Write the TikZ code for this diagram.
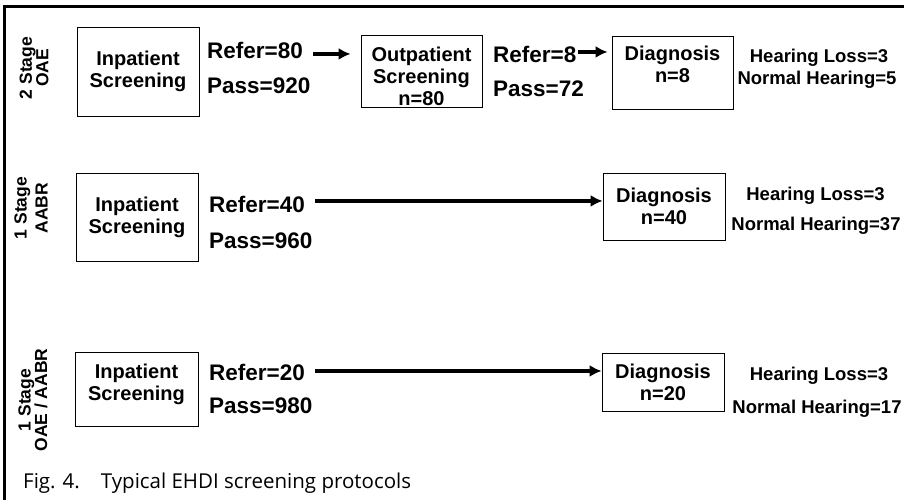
\documentclass[tikz,border=0pt]{standalone}
\usepackage{fontspec}
\setmainfont{Liberation Sans}
\newfontfamily\capfont{Open Sans}
\usetikzlibrary{positioning,arrows.meta}
\tikzset{
  flowarrow/.style={-{Latex[length=12pt, width=12pt]}, line width=4pt},
  screenbox/.style={draw, line width=0.8pt, minimum width=122pt, align=center, inner sep=0pt, font=\fontsize{20}{22}\selectfont\bfseries},
  flowlabel/.style={anchor=base west, inner sep=0pt, font=\fontsize{22.5}{26}\selectfont\bfseries},
  outcome/.style={anchor=base, inner sep=0pt, font=\fontsize{18.5}{22}\selectfont\bfseries},
  stagelabel/.style={rotate=90, align=center, inner sep=0pt, font=\fontsize{17.5}{16.5}\selectfont\bfseries},
  frameline/.style={line width=2.8pt}
}
\begin{document}
\begin{tikzpicture}[x=1pt, y=-1pt]
  \useasboundingbox (0,0) rectangle (904,500);
  \draw[frameline] (4.5,500) -- (4.5,6.5) -- (904,6.5);

  % 2 stage OAE
  \node[stagelabel] (s1) at (34,68) {2 Stage\\OAE};
  \node[screenbox, minimum height=89pt, text depth=5pt] (r1in) at (138,71.5) {Inpatient\\Screening};
  \node[flowlabel] (r1refer) at (207,59) {Refer=80};
  \node[flowlabel] (r1pass) at (207,94) {Pass=920};
  \node[screenbox, minimum width=121pt, minimum height=72pt, text height=69pt] (r1out) at (421.5,71) {Outpatient\\Screening\\n=80};
  \node[flowlabel] (r1refer2) at (493,63) {Refer=8};
  \node[flowlabel] (r1pass2) at (493,97) {Pass=72};
  \node[screenbox, minimum width=121pt, minimum height=73pt, text depth=16pt] (r1dx) at (672.5,72.5) {Diagnosis\\n=8};
  \node[outcome] (r1loss) at (819,63) {Hearing Loss=3};
  \node[outcome] (r1normal) at (817,85) {Normal Hearing=5};
  \draw[flowarrow, shorten <=10pt, shorten >=10pt] ([yshift=-3pt]r1refer.east) -- ([yshift=-3pt]r1refer.east -| r1out.west);
  \draw[flowarrow, shorten <=1pt, shorten >=4pt] ([yshift=3pt]r1refer2.east) -- ([yshift=3pt]r1refer2.east -| r1dx.west);

  % 1 stage AABR
  \node[stagelabel, font=\fontsize{17.5}{21}\selectfont\bfseries] (s2) at (31,208) {1 Stage\\AABR};
  \node[screenbox, minimum height=88pt] (r2in) at (137,217) {Inpatient\\Screening};
  \node[flowlabel] (r2refer) at (209,212) {Refer=40};
  \node[flowlabel] (r2pass) at (209,248) {Pass=960};
  \node[screenbox, minimum height=67pt] (r2dx) at (664,206.5) {Diagnosis\\n=40};
  \node[outcome] (r2loss) at (815.5,200) {Hearing Loss=3};
  \node[outcome] (r2normal) at (816,230) {Normal Hearing=37};
  \draw[flowarrow, shorten <=10pt] ([yshift=3pt]r2refer.east) -- ([yshift=3pt]r2refer.east -| r2dx.west);

  % 1 stage OAE / AABR
  \node[stagelabel] (s3) at (33,400) {1 Stage\\OAE / AABR};
  \node[screenbox, minimum width=123pt, minimum height=74pt, text depth=14pt] (r3in) at (136.5,389) {Inpatient\\Screening};
  \node[flowlabel] (r3refer) at (209,380) {Refer=20};
  \node[flowlabel] (r3pass) at (209,413) {Pass=980};
  \node[screenbox, minimum height=58pt] (r3dx) at (663,382) {Diagnosis\\n=20};
  \node[outcome] (r3loss) at (819,380) {Hearing Loss=3};
  \node[outcome] (r3normal) at (817,413) {Normal Hearing=17};
  \draw[flowarrow, shorten <=10pt] ([yshift=1pt]r3refer.east) -- ([yshift=1pt]r3refer.east -| r3dx.west);

  \node[anchor=base west, inner sep=0pt, font=\capfont\fontsize{20.5}{24}\selectfont] (caption) at (23,488) {Fig. 4.\hspace{21pt}Typical EHDI screening protocols};
\end{tikzpicture}
\end{document}
